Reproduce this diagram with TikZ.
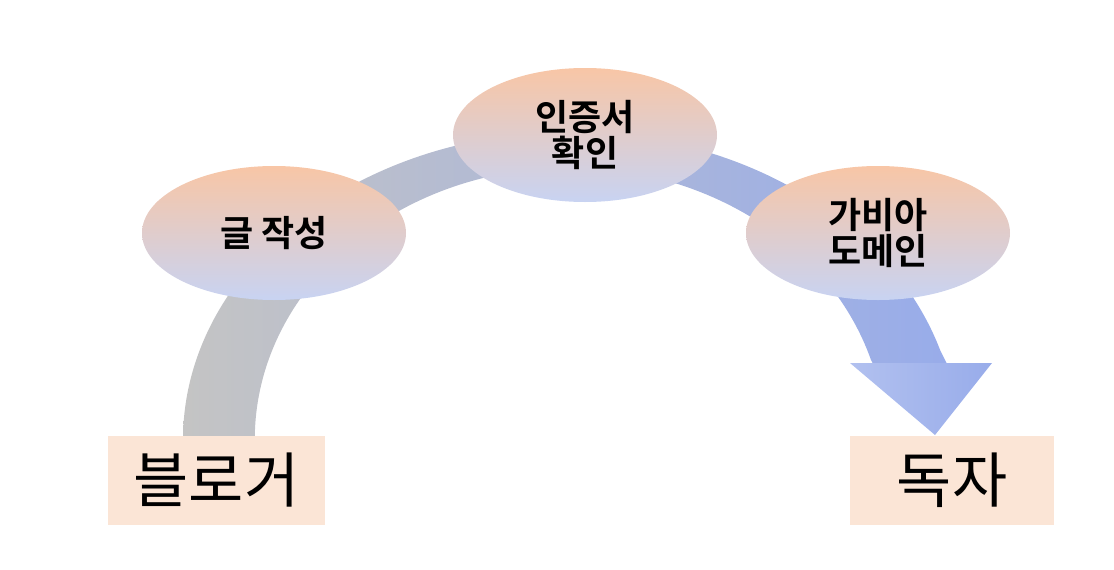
\documentclass[tikz,border=0pt]{standalone}
\usepackage{fontspec}
\newfontfamily\cjk{Noto Sans CJK KR}
\newfontfamily\cjkb{Noto Sans CJK KR Bold}
\usetikzlibrary{shapes.geometric,positioning}
\definecolor{peach}{HTML}{FBE5D6}
\definecolor{ovtop}{HTML}{F8C6A6}
\definecolor{ovbot}{HTML}{C8D3F2}
\definecolor{arcgray}{HTML}{C4C4C4}
\definecolor{arcmid}{HTML}{C8D2F0}
\definecolor{arcblue}{HTML}{98ACEA}
\tikzset{
  step oval/.style={ellipse, minimum width=264pt, minimum height=134pt,
    top color=ovtop, bottom color=ovbot, draw=none, align=center,
    font=\cjkb\fontsize{36}{38}\selectfont},
  person/.style={rectangle, fill=peach, minimum width=217pt, minimum height=89pt,
    font=\cjk\fontsize{60}{64}\selectfont}
}
\begin{document}
\begin{tikzpicture}[x=1pt,y=-1pt]
  \useasboundingbox (0,0) rectangle (1114,570);
  % curved flow arrow
  \shade[left color=arcgray, middle color=arcmid, right color=arcblue]
    (183,440) arc[start angle=180, end angle=343, x radius=387, y radius=308]
    -- (948,366) -- (874,366)
    -- (871,360) arc[start angle=343, end angle=180, x radius=315, y radius=272]
    -- cycle;
  \shade[left color=arcblue!75, right color=arcblue]
    (850,363) -- (992,363) -- (935,435) -- cycle;
  % steps
  \node[step oval] (write) at (274,233) {글 작성};
  \node[step oval] (cert) at (585,135) {인증서\\[-2pt]확인};
  \node[step oval] (domain) at (878,233) {가비아\\[-2pt]도메인};
  % people
  \node[person] (blogger) at (216.5,480.5) {블로거};
  \node[person, minimum width=204pt] (reader) at (952,480.5) {독자};
\end{tikzpicture}
\end{document}
